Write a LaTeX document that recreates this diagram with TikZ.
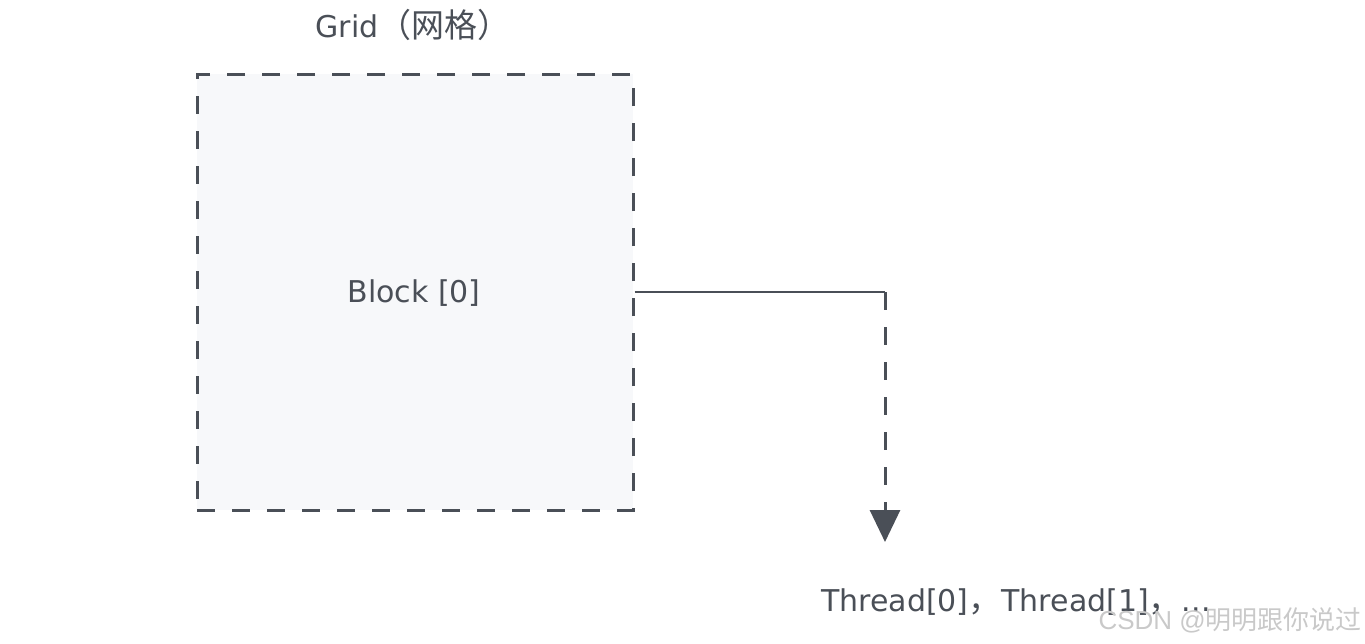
\documentclass[tikz,border=0pt]{standalone}
\usepackage{fontspec}
\setmainfont{DejaVu Sans}
\newfontfamily\cjk[Scale=1.1]{Noto Sans CJK SC}
\newfontfamily\wmcjk{Noto Sans CJK SC}
\newfontfamily\wmfont{Liberation Sans}
\usetikzlibrary{arrows.meta}
\definecolor{ink}{HTML}{4A4F57}
\definecolor{boxfill}{HTML}{F7F8FA}
\definecolor{wm}{HTML}{C9C9C9}
\tikzset{
  gridbox/.style={draw=ink, fill=boxfill, line width=3pt, dash pattern=on 18pt off 17pt, minimum width=436pt, minimum height=436pt, inner sep=0pt},
  lbl/.style={text=ink, font=\fontsize{30}{36}\selectfont, inner sep=0pt},
  solidlink/.style={draw=ink, line width=2pt},
  dashlink/.style={draw=ink, line width=3pt, dash pattern=on 18pt off 17pt},
  tip/.style={-{Triangle[width=30pt,length=32pt]}}
}
\begin{document}
\begin{tikzpicture}[x=1pt,y=-1pt]
\useasboundingbox (0,0) rectangle (1365,643);
\node[gridbox] (block) at (415,292) {};
\node[lbl] (blocklbl) at (414,293) {Block [0]};
\node[lbl] (gridlbl) at (413,25) {Grid{\cjk（网格）}};
\node[lbl, anchor=west] (thread) at (821,602) {Thread[0]{\cjk，}Thread[1]{\cjk，}...};
\node[text=wm, font=\fontsize{26}{30}\selectfont, anchor=east, inner sep=0pt] (wmark) at (1362,620) {\wmfont CSDN @{\wmcjk 明明跟你说过}};
\coordinate (turn) at (885,292);
\coordinate (tipend) at (885,542);
\draw[solidlink] (block.east) -- (turn);
\draw[dashlink, tip] (turn) -- (tipend);
\end{tikzpicture}
\end{document}
